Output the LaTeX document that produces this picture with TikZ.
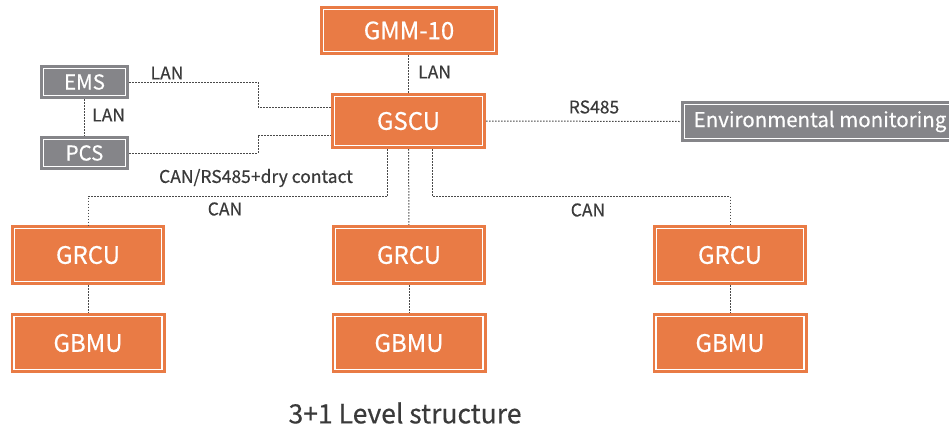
\documentclass[tikz,border=0pt]{standalone}
\usepackage{fontspec}
\setmainfont{Noto Sans CJK SC}[FakeBold=0.4]
\definecolor{unitorange}{HTML}{E97B45}
\definecolor{unitgrey}{HTML}{858589}
\definecolor{linkgrey}{HTML}{4A4A4A}
\definecolor{textgrey}{HTML}{3A3A3A}
\begin{document}
\begin{tikzpicture}[x=1pt, y=-1pt,
	box/.style={rectangle, inner sep=0pt, text=white,
		path picture={\draw[white, line width=1.3pt] ([shift={(3.5pt,3.5pt)}]path picture bounding box.south west) rectangle ([shift={(-3.5pt,-3.5pt)}]path picture bounding box.north east);}},
	unit/.style={box, fill=unitorange, font=\fontsize{24}{28}\selectfont},
	ext/.style={box, fill=unitgrey, font=\fontsize{20.5}{24}\selectfont},
	lbl/.style={text=textgrey, inner sep=0pt, font=\fontsize{17.5}{21}\selectfont},
	link/.style={draw=linkgrey, line width=1pt, dash pattern=on 1.5pt off 1.5pt}]
	\useasboundingbox (0, 0) rectangle (949, 426);

	\node[unit, minimum width=178pt, minimum height=49pt] at (409, 30.5) (gmm)	{GMM-10};
	\node[unit, minimum width=155pt, minimum height=56pt] at (408.5, 121) (gscu)	{GSCU};
	\node[ext, minimum width=89pt, minimum height=34pt] at (84.5, 82) (ems)	{EMS};
	\node[ext, minimum width=89pt, minimum height=34pt] at (84.5, 153) (pcs)	{PCS};
	\node[ext, minimum width=278pt, minimum height=41pt] at (820, 121.5) (env)	{Environmental monitoring};

	\node[unit, minimum width=154pt, minimum height=60pt] at (88, 255) (grcuA)	{GRCU};
	\node[unit, minimum width=154pt, minimum height=60pt] at (409, 255) (grcuB)	{GRCU};
	\node[unit, minimum width=154pt, minimum height=60pt] at (730, 255) (grcuC)	{GRCU};
	\node[unit, minimum width=155pt, minimum height=60pt] at (88, 343) (gbmuA)	{GBMU};
	\node[unit, minimum width=155pt, minimum height=60pt] at (409, 343) (gbmuB)	{GBMU};
	\node[unit, minimum width=155pt, minimum height=60pt] at (730, 343) (gbmuC)	{GBMU};

	\coordinate (split) at (258, 0);
	\coordinate (bus) at (0, 196.5);

	\draw[link] (gmm.south -| gscu.north) -- (gscu.north);
	\draw[link] (ems) -- (pcs);
	\draw[link] (ems.east) -- (ems.east -| split) |- ([yshift=14pt]gscu.west);
	\draw[link] (pcs.east) -- (pcs.east -| split) |- ([yshift=-14pt]gscu.west);
	\draw[link] (gscu.east) -- (env.west);
	\draw[link] ([xshift=-21pt]gscu.south) |- (grcuA |- bus) -- (grcuA);
	\draw[link] (gscu) -- (grcuB);
	\draw[link] ([xshift=24pt]gscu.south) |- (grcuC |- bus) -- (grcuC);
	\draw[link] (grcuA) -- (gbmuA);
	\draw[link] (grcuB) -- (gbmuB);
	\draw[link] (grcuC) -- (gbmuC);

	\node[lbl, anchor=west] at (418, 72) (lanTop)	{LAN};
	\node[lbl] at (167, 73) (lanEms)	{LAN};
	\node[lbl, anchor=west] at (92, 115) (lanPcs)	{LAN};
	\node[lbl] at (594, 107) (rsEnv)	{RS485};
	\node[lbl] at (256, 178) (canPcs)	{CAN/RS485+dry contact};
	\node[lbl] at (225, 209) (canLeft)	{CAN};
	\node[lbl] at (588, 210) (canRight)	{CAN};
	\node[text=textgrey, font=\fontsize{26.5}{30}\selectfont] at (405, 413) (caption)	{3+1 Level structure};
\end{tikzpicture}
\end{document}
